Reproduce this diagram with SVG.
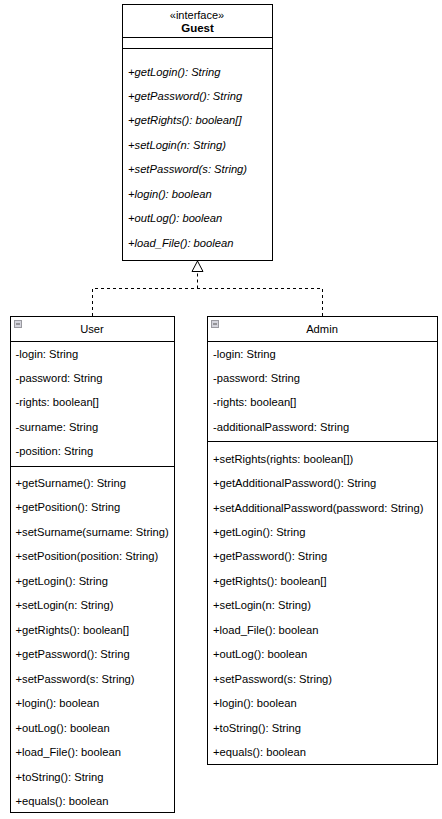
<svg xmlns="http://www.w3.org/2000/svg" width="442" height="819" viewBox="0 0 442 819">
<style>
text{font-family:"Liberation Sans",Arial,sans-serif;font-size:11.2px;fill:#000}
.i{font-style:italic}
.m{text-anchor:middle}
.b{fill:#fff;stroke:#000;stroke-width:1}
.l{stroke:#000;stroke-width:1;fill:none}
.d{stroke:#000;stroke-width:1;fill:none;stroke-dasharray:3 3}
.t{fill:#d4d4dc;stroke:#9a9aa0;stroke-width:1}
.u{stroke:#555;stroke-width:1}
</style>
<rect width="442" height="819" fill="#fff"/>
<g id="connectors">
<path class="d" d="M92.500 316V288.500H322.500V316M197.500 288.500V272"/>
<path class="b" d="M197.500 261L192 271.500H203Z"/>
</g>
<g id="guest">
<rect class="b" x="122.500" y="4.500" width="150" height="256"/>
<path class="l" d="M122.500 37.500H272.500M122.500 48.500H272.500"/>
<text class="m" x="197" y="19" style="font-size:11px">«interface»</text>
<text class="m" x="197.500" y="32" font-weight="bold" style="font-size:11.500px">Guest</text>
<text class="i" x="128" y="76">+getLogin(): String</text>
<text class="i" x="128" y="100">+getPassword(): String</text>
<text class="i" x="128" y="124">+getRights(): boolean[]</text>
<text class="i" x="128" y="149">+setLogin(n: String)</text>
<text class="i" x="128" y="173">+setPassword(s: String)</text>
<text class="i" x="128" y="198">+login(): boolean</text>
<text class="i" x="128" y="222">+outLog(): boolean</text>
<text class="i" x="128" y="247">+load_File(): boolean</text>
</g>
<g id="user">
<rect class="b" x="10.500" y="316.500" width="164" height="496"/>
<path class="l" d="M10.500 341.500H174.500M10.500 466.500H174.500"/>
<rect class="t" x="14.500" y="320.500" width="7" height="7"/>
<path class="u" d="M16 324H20"/>
<text class="m" x="92" y="333">User</text>
<text x="15.500" y="358">-login: String</text>
<text x="15.500" y="382">-password: String</text>
<text x="15.500" y="406">-rights: boolean[]</text>
<text x="15.500" y="431">-surname: String</text>
<text x="15.500" y="455">-position: String</text>
<text x="15.500" y="487">+getSurname(): String</text>
<text x="15.500" y="511">+getPosition(): String</text>
<text x="15.500" y="536">+setSurname(surname: String)</text>
<text x="15.500" y="560">+setPosition(position: String)</text>
<text x="15.500" y="585">+getLogin(): String</text>
<text x="15.500" y="609">+setLogin(n: String)</text>
<text x="15.500" y="634">+getRights(): boolean[]</text>
<text x="15.500" y="658">+getPassword(): String</text>
<text x="15.500" y="683">+setPassword(s: String)</text>
<text x="15.500" y="707">+login(): boolean</text>
<text x="15.500" y="732">+outLog(): boolean</text>
<text x="15.500" y="756">+load_File(): boolean</text>
<text x="15.500" y="781">+toString(): String</text>
<text x="15.500" y="805">+equals(): boolean</text>
</g>
<g id="admin">
<rect class="b" x="207.500" y="316.500" width="230" height="448"/>
<path class="l" d="M207.500 341.500H437.500M207.500 441.500H437.500"/>
<rect class="t" x="211.500" y="320.500" width="7" height="7"/>
<path class="u" d="M213 324H217"/>
<text class="m" x="322" y="333">Admin</text>
<text x="213" y="358">-login: String</text>
<text x="213" y="382">-password: String</text>
<text x="213" y="406">-rights: boolean[]</text>
<text x="213" y="431">-additionalPassword: String</text>
<text x="213" y="463">+setRights(rights: boolean[])</text>
<text x="213" y="487">+getAdditionalPassword(): String</text>
<text x="213" y="512">+setAdditionalPassword(password: String)</text>
<text x="213" y="536">+getLogin(): String</text>
<text x="213" y="560">+getPassword(): String</text>
<text x="213" y="585">+getRights(): boolean[]</text>
<text x="213" y="609">+setLogin(n: String)</text>
<text x="213" y="634">+load_File(): boolean</text>
<text x="213" y="658">+outLog(): boolean</text>
<text x="213" y="683">+setPassword(s: String)</text>
<text x="213" y="707">+login(): boolean</text>
<text x="213" y="732">+toString(): String</text>
<text x="213" y="756">+equals(): boolean</text>
</g>
</svg>
